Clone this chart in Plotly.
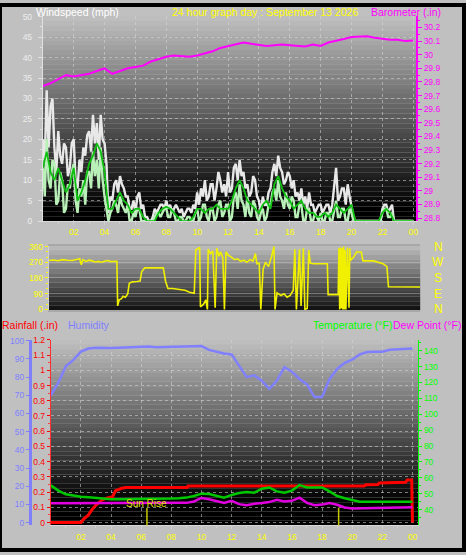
import plotly.graph_objects as go

W, H = 466, 555


def px(x):
    return x / W


def py(y):
    return 1 - y / H


# ---------------- DATA ----------------
# eighth-hour samples 00:00 .. 24:00 (gust / speed)
FINE_HOURS = [i * 0.125 for i in range(193)]
GUST_MPH = [
    20, 14, 32, 18, 28, 30, 18, 12, 22, 16, 14, 19, 18, 11, 13, 19,
    20, 10, 8, 15, 12, 18, 16, 21, 22, 17, 26, 19, 24, 15, 26, 20,
    19, 14, 2, 6, 5, 9, 10, 7, 11, 9, 8, 6, 6, 3, 3, 5,
    2, 6, 7, 3, 4, 1, 1, 0, 0, 1, 3, 2, 3, 4, 4, 3,
    5, 3, 4, 2, 3, 4, 3, 2, 3, 1, 2, 3, 3, 2, 4, 3,
    7, 4, 8, 6, 10, 5, 6, 9, 9, 5, 8, 12, 10, 7, 9, 6,
    12, 7, 8, 13, 14, 10, 15, 11, 12, 8, 9, 6, 7, 11, 10, 6,
    5, 2, 6, 4, 4, 7, 8, 12, 14, 11, 16, 13, 12, 9, 10, 12,
    11, 8, 10, 6, 7, 5, 8, 4, 6, 3, 7, 4, 4, 2, 3, 4,
    4, 2, 3, 4, 4, 2, 4, 8, 13, 5, 6, 8, 8, 4, 9, 6,
    3, 1, 0, 0, 0, 0, 0, 0, 0, 0, 0, 0, 0, 0, 0, 0,
    3, 4, 4, 2, 3, 4, 0, 0, 0, 0, 0, 0, 0, 0, 0, 0,
    0]
SPEED_MPH = [
    14, 6, 20, 10, 8, 15, 14, 4, 5, 12, 10, 2, 3, 9, 8, 12,
    14, 5, 2, 8, 6, 10, 4, 12, 12, 8, 17, 11, 15, 8, 18, 10,
    6, 3, 0, 2, 3, 5, 4, 2, 6, 4, 3, 2, 4, 0, 0, 2,
    1, 3, 3, 0, 0, 0, 0, 0, 0, 0, 1, 2, 2, 1, 2, 3,
    3, 1, 1, 3, 2, 0, 0, 1, 1, 0, 0, 1, 1, 0, 0, 2,
    3, 0, 1, 4, 4, 1, 0, 3, 3, 0, 1, 4, 5, 1, 2, 4,
    4, 0, 1, 6, 7, 3, 9, 5, 4, 1, 6, 2, 1, 5, 4, 1,
    0, 2, 3, 0, 1, 4, 4, 7, 8, 5, 10, 6, 5, 3, 7, 4,
    3, 6, 5, 1, 1, 4, 4, 0, 0, 3, 3, 0, 0, 2, 1, 0,
    2, 0, 0, 2, 2, 0, 0, 3, 5, 1, 1, 3, 3, 0, 0, 3,
    2, 0, 0, 0, 0, 0, 0, 0, 0, 0, 0, 0, 0, 0, 0, 0,
    2, 3, 3, 1, 1, 2, 0, 0, 0, 0, 0, 0, 0, 0, 0, 0,
    0]

# quarter-hour samples (average wind)
WIND_HOURS = [i * 0.25 for i in range(97)]
AVG_MPH = [
    13, 17, 12, 10, 13, 10, 7, 9,
    13, 5, 7, 10, 14, 16, 19, 17,
    12, 3, 3, 5, 7, 5, 4, 2,
    3, 3, 1, 0, 0, 0, 2, 3,
    3.5, 3, 2, 1, 0, 0, 0, 1,
    3, 3, 2, 3, 3, 4, 3, 3,
    3, 5, 8, 10, 8, 5, 4, 3,
    2, 4, 5, 3, 9, 11, 8, 6,
    5, 3, 4, 5, 3, 2, 2, 1,
    1, 2, 1, 2, 4, 3, 2, 3,
    4, 0, 0, 0, 0, 0, 0, 0,
    2, 3, 2, 0, 0, 0, 0, 0,
    0]

# half-hour samples 00:00 .. 24:00
HALF_HOURS = [i * 0.5 for i in range(49)]
BARO_IN = [
    29.77, 29.79, 29.82, 29.85, 29.84, 29.85, 29.86, 29.88,
    29.90, 29.86, 29.88, 29.90, 29.91, 29.92, 29.95, 29.97,
    29.985, 29.995, 29.99, 29.985, 29.995, 30.01, 30.025, 30.05,
    30.065, 30.075, 30.09, 30.08, 30.07, 30.065, 30.07, 30.075,
    30.07, 30.065, 30.06, 30.075, 30.065, 30.09, 30.10, 30.115,
    30.13, 30.135, 30.135, 30.125, 30.115, 30.11, 30.11, 30.10,
    30.105]

HUMIDITY = [
    70, 77, 86, 89.5, 94, 95.7, 96.2, 96.0,
    96.0, 96.1, 96.3, 96.4, 96.6, 96.8, 96.5, 96.6,
    96.8, 96.8, 96.9, 97.0, 97.1, 95, 94, 93,
    92.5, 86, 80, 81, 78, 73.5, 78, 85.5,
    83, 79, 76, 69, 69, 79, 84.5, 87.8,
    89.6, 92.5, 93.8, 94, 94, 95, 95.3, 95.3,
    95.8]

TEMP_F = [
    55.3, 52, 49.7, 48.8, 48.2, 47.8, 47.3, 46.8,
    46.6, 46.6, 46.6, 46.6, 46.6, 46.8, 46.8, 47,
    47, 47.2, 47.6, 48.6, 50.1, 49.8, 48.6, 47.6,
    49.3, 50.5, 51.2, 50.7, 53.2, 54, 51.5, 50.7,
    52, 55.5, 54, 54.2, 54, 51.5, 48.6, 47.2,
    46, 45, 45, 45, 45, 45, 45, 45,
    45]

DEW_F = [
    44.1, 44.1, 44.1, 44.1, 44.1, 44.1, 44.1, 44.1,
    44.1, 44.1, 44.1, 44.1, 44.1, 44.2, 44.2, 44.2,
    44.2, 44.3, 44.3, 45.2, 47.4, 46.6, 45.5, 44.3,
    45.6, 43.5, 42.8, 43.8, 44.2, 44.8, 46.2, 45.2,
    45.6, 47.6, 44.3, 42.8, 43.2, 44.2, 43.1, 41.4,
    40.8, 40.9, 41.1, 41.2, 41.3, 41.4, 41.4, 41.5,
    41.5]

RAIN_HOURS = [0, 2.0, 2.2, 2.5, 2.7, 3.0, 3.35, 3.7, 4.1, 4.3, 4.7, 5.0,
              9.05, 9.1, 20.8, 20.9, 21.7, 21.8, 23.55, 23.65, 23.95, 24.0]
RAIN_IN = [0, 0, 0.025, 0.05, 0.08, 0.115, 0.145, 0.16, 0.17, 0.21, 0.225, 0.23,
           0.23, 0.24, 0.24, 0.248, 0.25, 0.26, 0.265, 0.28, 0.28, 0.0]

DIR_HOURS = [0.0, 0.3, 0.6, 0.9, 1.2, 1.5, 1.8, 2.0, 2.1, 2.2, 2.4, 2.6, 2.8, 3.0,
             3.2, 3.4, 3.6, 3.8, 4.0, 4.2, 4.4, 4.45, 4.55, 4.7, 4.8, 4.95, 5.1,
             5.2, 5.4, 5.7, 5.9, 6.0, 6.2, 6.8, 7.4, 7.55, 7.7, 8.0, 8.4, 8.8,
             9.1, 9.4, 9.5, 9.75, 9.8, 10.0, 10.15, 10.25, 10.3, 10.45, 10.6,
             10.75, 10.85, 11.0, 11.1, 11.25, 11.35, 11.45, 11.6, 11.8, 12.0,
             12.2, 12.4, 12.6, 12.8, 13.0, 13.2, 13.35, 13.45, 13.6, 13.7, 13.85,
             14.0, 14.2, 14.4, 14.55, 14.62, 14.75, 15.0, 15.2, 15.4, 15.6, 15.8,
             15.9, 16.0, 16.2, 16.3, 16.45, 16.55, 16.7, 16.8, 16.9, 17.1, 17.5,
             18.0, 18.05, 18.7, 18.75, 18.8, 18.85, 18.9, 18.95, 19.0, 19.05,
             19.1, 19.15, 19.2, 19.3, 19.4, 19.45, 19.5, 19.7, 19.9, 20.2, 20.3,
             21.0, 21.3, 21.6, 21.85, 21.95, 24.0]
DIR_DEG = [280, 283, 279, 285, 282, 280, 286, 290, 255, 285, 275, 282, 278, 272,
           275, 270, 276, 280, 274, 276, 276, 20, 55, 62, 75, 70, 88,
           150, 158, 160, 162, 215, 238, 238, 238, 160, 120, 120, 116, 110,
           98, 92, 340, 355, 15, 30, 55, 0, 345, 320, 335,
           10, 350, 305, 330, 295, 0, 330, 310, 300, 285,
           290, 275, 282, 270, 285, 278, 320, 262, 265, 0, 230,
           270, 245, 305, 360, 0, 95, 80, 90, 70, 80, 110,
           345, 0, 345, 20, 350, 0, 5, 340, 265, 262, 262,
           262, 85, 85, 350, 0, 355, 5, 350, 0, 360,
           0, 340, 0, 355, 10, 350, 280, 300, 330, 328, 278,
           278, 268, 262, 245, 130, 128]

SUN_EVENTS = [6.38, 19.1]
SUN_LABEL = "Sun Rise"

HOUR_TICKS = [2, 4, 6, 8, 10, 12, 14, 16, 18, 20, 22, 24]
HOUR_LABELS = ["02", "04", "06", "08", "10", "12", "14", "16", "18", "20", "22", "00"]
BARO_TICKS = [28.8, 28.9, 29.0, 29.1, 29.2, 29.3, 29.4, 29.5, 29.6, 29.7, 29.8,
              29.9, 30.0, 30.1, 30.2, 30.3]
BARO_LABELS = ["28.8", "28.9", "29", "29.1", "29.2", "29.3", "29.4", "29.5", "29.6",
               "29.7", "29.8", "29.9", "30", "30.1", "30.2", "30.3"]
RAIN_TICKS = [0, 0.1, 0.2, 0.3, 0.4, 0.5, 0.6, 0.7, 0.8, 0.9, 1.0, 1.1, 1.2]
RAIN_LABELS = ["0", "0.1", "0.2", "0.3", "0.4", "0.5", "0.6", "0.7", "0.8", "0.9",
               "1", "1.1", "1.2"]
DIR_TICKS = [0, 90, 180, 270, 360]
COMPASS = ["N", "E", "S", "W", "N"]

# ---------------- STYLE ----------------
FONT = "Liberation Sans, Arial, sans-serif"
YELLOW = "#ffff00"
MAGENTA = "#ff00ff"
GRID = "rgba(215,215,215,0.55)"

fig = go.Figure()

# wind speeds
fig.add_trace(go.Scatter(x=FINE_HOURS, y=GUST_MPH, mode="lines",
                         line=dict(color="#e8e8e8", width=2.4), xaxis="x", yaxis="y"))
fig.add_trace(go.Scatter(x=FINE_HOURS, y=SPEED_MPH, mode="lines",
                         line=dict(color="#b8f0b8", width=2.4), xaxis="x", yaxis="y"))
fig.add_trace(go.Scatter(x=WIND_HOURS, y=AVG_MPH, mode="lines",
                         line=dict(color="#10c010", width=1.8), xaxis="x", yaxis="y"))
fig.add_trace(go.Scatter(x=HALF_HOURS, y=BARO_IN, mode="lines",
                         line=dict(color=MAGENTA, width=2), xaxis="x", yaxis="y2"))

# direction
fig.add_trace(go.Scatter(x=DIR_HOURS, y=DIR_DEG, mode="lines",
                         line=dict(color="#f0f000", width=1.6), xaxis="x2", yaxis="y3"))

# bottom panel
fig.add_trace(go.Scatter(x=HALF_HOURS, y=HUMIDITY, mode="lines",
                         line=dict(color="#8080ff", width=2.5), xaxis="x3", yaxis="y5"))
fig.add_trace(go.Scatter(x=HALF_HOURS, y=TEMP_F, mode="lines",
                         line=dict(color="#00c800", width=2.5), xaxis="x3", yaxis="y6"))
fig.add_trace(go.Scatter(x=HALF_HOURS, y=DEW_F, mode="lines",
                         line=dict(color="#e000e0", width=2.5), xaxis="x3", yaxis="y6"))
fig.add_trace(go.Scatter(x=RAIN_HOURS, y=RAIN_IN, mode="lines",
                         line=dict(color="#ff0000", width=3), xaxis="x3", yaxis="y4"))

shapes = []


def gradient(x0, x1, y0, y1, top, bottom, n):
    for i in range(n):
        t = i / (n - 1)
        v = int(round(top + (bottom - top) * t))
        v = max(0, min(255, v))
        ya = y0 + (y1 - y0) * i / n
        yb = y0 + (y1 - y0) * (i + 1) / n
        shapes.append(dict(type="rect", xref="paper", yref="paper",
                           x0=px(x0), x1=px(x1), y0=py(yb), y1=py(ya),
                           fillcolor=f"rgb({v},{v},{v})", line=dict(width=0),
                           layer="below"))


gradient(43, 418, 11, 220, 190, -10, 42)
gradient(49, 422, 245, 311, 185, 20, 14)
gradient(51, 420, 341, 530, 190, -25, 40)

for t in SUN_EVENTS:
    shapes.append(dict(type="line", xref="x3", yref="paper", x0=t, x1=t,
                       y0=py(530), y1=py(512), line=dict(color="#c8c800", width=1.5)))

shapes.append(dict(type="rect", xref="paper", yref="paper", x0=0, x1=1, y0=0, y1=1,
                   line=dict(color="black", width=4), fillcolor="rgba(0,0,0,0)"))

annotations = [
    dict(text="Windspeed (mph)", x=px(34), y=py(7), xanchor="left", font=dict(color="#ffffff", size=10.5)),
    dict(text="24 hour graph day : September 13 2026", x=px(171), y=py(7), xanchor="left",
         font=dict(color=YELLOW, size=10.5)),
    dict(text="Barometer (.in)", x=px(371), y=py(7), xanchor="left", font=dict(color=MAGENTA, size=10.5)),
    dict(text="Rainfall (.in)", x=px(0), y=py(326), xanchor="left", font=dict(color="#ff0000", size=10.5)),
    dict(text="Humidity", x=px(66), y=py(326), xanchor="left", font=dict(color="#8080ff", size=10.5)),
    dict(text="Temperature (°F)", x=px(312), y=py(326), xanchor="left", font=dict(color="#00ff00", size=10.5)),
    dict(text="Dew Point (°F)", x=px(393), y=py(326), xanchor="left", font=dict(color=MAGENTA, size=10.5)),
]
for a in annotations:
    a.update(xref="paper", yref="paper", yanchor="middle", showarrow=False)
    a["font"]["family"] = FONT

for v, lab in zip(DIR_TICKS, COMPASS):
    annotations.append(dict(text=lab, xref="paper", yref="y3", x=px(440), y=v,
                            xanchor="center", yanchor="middle", showarrow=False,
                            font=dict(color=YELLOW, size=12, family=FONT)))

annotations.append(dict(text=SUN_LABEL, xref="x3", yref="paper", x=SUN_EVENTS[0], y=py(508),
                        xanchor="center", yanchor="middle", showarrow=False,
                        font=dict(color="#e0e000", size=10, family=FONT)))

tick_font = dict(family=FONT, size=8.5)

fig.update_layout(
    width=W, height=H, margin=dict(l=0, r=0, t=0, b=0),
    paper_bgcolor="#c0c0c0", plot_bgcolor="rgba(0,0,0,0)", showlegend=False,
    font=dict(family=FONT, size=9),
    shapes=shapes, annotations=annotations,
    xaxis=dict(domain=[px(43), px(418)], range=[0, 24.19], anchor="y",
               tickmode="array", tickvals=HOUR_TICKS, ticktext=HOUR_LABELS,
               tickfont=dict(tick_font, color=YELLOW), ticks="outside", ticklen=3,
               tickcolor="#d0d0d0", showline=True, linecolor="#d8d8d8",
               showgrid=True, gridcolor=GRID, griddash="dot", zeroline=False,
               minor=dict(tickvals=list(range(1, 24, 2)), ticks="outside", ticklen=2,
                          tickcolor="#d0d0d0", showgrid=False)),
    yaxis=dict(domain=[py(220), py(11)], range=[0, 50.24], anchor="x", dtick=5,
               tickfont=dict(tick_font, color="#eeeeee"), ticks="outside", ticklen=4,
               tickcolor="#e0e0e0", ticklabelstandoff=4, showline=True, linecolor="#e0e0e0",
               showgrid=True, gridcolor=GRID, griddash="dot", zeroline=False,
               minor=dict(dtick=2.5, ticks="outside", ticklen=2, tickcolor="#e0e0e0", showgrid=False)),
    yaxis2=dict(overlaying="y", side="right", anchor="x", range=[28.778, 30.286],
                tickmode="array", tickvals=BARO_TICKS, ticktext=BARO_LABELS,
                tickfont=dict(tick_font, color=MAGENTA), ticks="outside", ticklen=4,
                tickcolor=MAGENTA, showline=True, linecolor=MAGENTA, linewidth=1.5,
                showgrid=False, zeroline=False,
                minor=dict(dtick=0.05, ticks="outside", ticklen=2, tickcolor=MAGENTA, showgrid=False)),
    xaxis2=dict(domain=[px(49), px(422)], range=[0, 24], anchor="y3",
                showticklabels=False, ticks="", showline=True, mirror=True,
                linecolor="#a8a8a8", linewidth=1.5, showgrid=False, zeroline=False),
    yaxis3=dict(domain=[py(311), py(245)], range=[-5.6, 365.6], anchor="x2",
                tickmode="array", tickvals=DIR_TICKS,
                tickfont=dict(tick_font, color=YELLOW), ticks="outside", ticklen=3,
                tickcolor=YELLOW, showline=True, linecolor="#d0d0d0",
                showgrid=True, gridcolor="rgba(200,200,200,0.45)", zeroline=False,
                minor=dict(dtick=30, ticks="outside", ticklen=2, tickcolor=YELLOW, showgrid=False)),
    xaxis3=dict(domain=[px(51), px(420)], range=[0, 24.38], anchor="y4",
                tickmode="array", tickvals=HOUR_TICKS, ticktext=HOUR_LABELS,
                tickfont=dict(tick_font, color=YELLOW), ticks="outside", ticklen=3,
                tickcolor="#d0d0d0", showline=True, linecolor="#d8d8d8",
                showgrid=True, gridcolor=GRID, griddash="dot", zeroline=False,
                minor=dict(tickvals=list(range(1, 24, 2)), ticks="outside", ticklen=2,
                           tickcolor="#d0d0d0", showgrid=False)),
    yaxis4=dict(domain=[py(530), py(341)], range=[-0.019, 1.2], anchor="x3",
                tickmode="array", tickvals=RAIN_TICKS, ticktext=RAIN_LABELS,
                tickfont=dict(tick_font, color="#ff0000"), ticks="outside", ticklen=3,
                tickcolor="#ff0000", showline=True, linecolor="#ff3030", linewidth=1,
                showgrid=True, gridcolor=GRID, griddash="dot", zeroline=False,
                minor=dict(dtick=0.05, ticks="outside", ticklen=2, tickcolor="#ff4040", showgrid=False)),
    yaxis5=dict(overlaying="y4", side="left", anchor="free", position=px(30),
                range=[-1.6, 100.5], dtick=10,
                tickfont=dict(tick_font, color="#8080ff"), ticks="outside", ticklen=3,
                tickcolor="#8080ff", showline=True, linecolor="#8080ff", linewidth=3,
                showgrid=False, zeroline=False),
    yaxis6=dict(overlaying="y4", side="right", anchor="x3", range=[30.1, 146.8],
                tickmode="array", tickvals=[40, 50, 60, 70, 80, 90, 100, 110, 120, 130, 140],
                tickfont=dict(tick_font, color="#00ff00"), ticks="outside", ticklen=3,
                tickcolor="#00ff00", showline=True, linecolor="#00ff00", linewidth=1,
                showgrid=False, zeroline=False,
                minor=dict(dtick=5, ticks="outside", ticklen=2, tickcolor="#00ff00", showgrid=False)),
)

fig.write_html("out.html", config={"displayModeBar": False},
               post_script="document.body.style.margin='0';document.body.style.overflow='hidden';")
